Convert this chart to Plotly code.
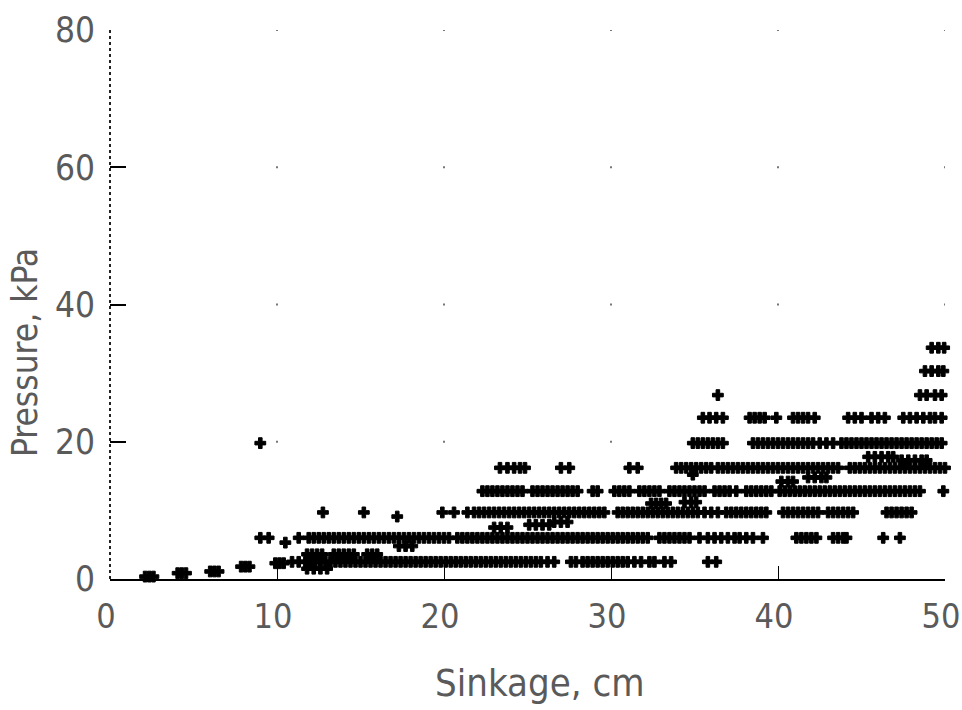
import plotly.graph_objects as go

# ---- data ----
X_TICKS = [0, 10, 20, 30, 40, 50]
Y_TICKS = [0, 20, 40, 60, 80]
GRID_X = [10, 20, 30, 40, 50]
GRID_Y = [20, 40, 60, 80]

# pressure bands (kPa) and sinkage positions (cm) of the "+" points on each band
LEVEL_A = 2.5
SINK_A = [10.9, 11.3, 11.7, 12.0, 12.3, 12.6, 12.9, 13.2, 13.5, 13.8, 14.1, 14.4, 14.7, 15.0,
          15.3, 15.6, 15.9, 16.2, 16.5, 16.8, 17.1, 17.4, 17.7, 18.0, 18.3, 18.6, 18.9, 19.2,
          19.5, 19.8, 20.1, 20.4, 20.7, 21.0, 21.3, 21.6, 21.9, 22.2, 22.5, 22.8, 23.1, 23.4,
          23.7, 24.0, 24.3, 24.6, 24.9, 25.2, 25.5, 25.8, 26.2, 26.6, 27.6, 27.9, 28.3, 28.6,
          28.9, 29.2, 29.5, 29.8, 30.1, 30.4, 30.7, 31.0, 31.4, 31.8, 32.3, 32.6, 33.2, 33.6,
          35.8, 36.3]

LEVEL_B = 6.0
SINK_B = [9.0, 9.5, 11.3, 11.9, 12.2, 12.5, 12.8, 13.1, 13.4, 13.7, 14.0, 14.3, 14.6, 14.9,
          15.2, 15.5, 15.8, 16.1, 16.4, 16.7, 17.0, 17.3, 17.6, 17.9, 18.2, 18.5, 18.8, 19.1,
          19.4, 19.7, 20.0, 20.3, 20.8, 21.1, 21.4, 21.7, 22.0, 22.3, 22.6, 22.9, 23.2, 23.5,
          23.8, 24.1, 24.4, 24.7, 25.0, 25.3, 25.6, 25.9, 26.2, 26.5, 26.8, 27.1, 27.4, 27.7,
          28.0, 28.3, 28.6, 28.9, 29.2, 29.5, 29.8, 30.1, 30.4, 30.7, 31.0, 31.3, 31.6, 31.9,
          32.2, 32.9, 33.2, 33.5, 33.8, 34.1, 34.4, 34.7, 35.3, 35.8, 36.2, 36.6, 37.0, 37.4,
          37.7, 38.1, 38.5, 39.1, 41.1, 41.4, 41.7, 42.0, 42.3, 43.3, 43.6, 43.9, 44.1, 46.3,
          47.3]

LEVEL_C = 9.7
SINK_C = [12.75, 15.2, 19.9, 20.6, 21.4, 21.8, 22.1, 22.4, 22.7, 23.0, 23.3, 23.6, 23.9, 24.2,
          24.5, 24.8, 25.1, 25.4, 25.7, 26.0, 26.3, 26.6, 26.9, 27.2, 27.5, 27.8, 28.1, 28.4,
          28.7, 29.0, 29.3, 29.6, 30.4, 30.7, 31.0, 31.3, 31.6, 31.9, 32.2, 32.5, 32.8, 33.1,
          33.4, 33.7, 34.0, 34.3, 34.6, 34.9, 35.2, 35.6, 36.0, 36.4, 36.9, 37.2, 37.5, 37.8,
          38.1, 38.4, 38.7, 39.0, 39.3, 40.3, 40.6, 40.9, 41.2, 41.5, 41.8, 42.1, 42.4, 43.0,
          43.3, 43.6, 43.9, 44.2, 44.5, 46.5, 46.8, 47.1, 47.4, 47.7, 48.0]

LEVEL_D = 12.8
SINK_D = [22.3, 22.6, 22.9, 23.2, 23.5, 23.8, 24.1, 24.4, 24.7, 25.3, 25.6, 25.9, 26.2, 26.5,
          26.8, 27.1, 27.4, 27.7, 28.0, 28.9, 29.2, 30.2, 30.5, 30.8, 31.1, 31.7, 32.0, 32.3,
          32.6, 32.9, 33.5, 33.8, 34.1, 34.4, 34.7, 35.0, 35.3, 35.6, 36.2, 36.5, 36.8, 37.1,
          37.5, 38.1, 38.4, 38.7, 39.0, 39.3, 39.6, 40.1, 40.4, 40.7, 41.0, 41.3, 41.6, 41.9,
          42.2, 42.5, 42.8, 43.1, 43.4, 43.7, 44.0, 44.3, 44.6, 44.9, 45.2, 45.5, 45.8, 46.1,
          46.4, 46.7, 47.0, 47.3, 47.6, 47.9, 48.2, 48.5, 49.9]

LEVEL_E = 16.2
SINK_E = [23.35, 23.8, 24.2, 24.55, 24.85, 27.0, 27.5, 31.1, 31.6, 33.9, 34.2, 34.5, 34.8,
          35.1, 35.4, 35.7, 36.0, 36.4, 36.7, 37.0, 37.3, 37.6, 37.9, 38.2, 38.5, 38.8, 39.1,
          39.4, 39.7, 40.0, 40.3, 40.6, 40.9, 41.2, 41.5, 41.8, 42.1, 42.4, 42.7, 43.0, 43.3,
          43.6, 44.3, 44.6, 44.9, 45.2, 45.5, 45.8, 46.1, 46.4, 46.7, 47.0, 47.3, 47.6, 47.9,
          48.2, 48.5, 48.8, 49.1, 49.4, 49.7, 50.0]

LEVEL_F = 19.8
SINK_F = [9.0, 34.9, 35.2, 35.5, 35.8, 36.1, 36.4, 36.7, 38.5, 38.8, 39.1, 39.4, 39.7, 40.0,
          40.3, 40.6, 40.9, 41.2, 41.5, 41.8, 42.1, 42.5, 42.9, 43.3, 43.8, 44.1, 44.4, 44.7,
          45.0, 45.3, 45.6, 45.9, 46.2, 46.5, 46.8, 47.1, 47.4, 47.7, 48.0, 48.3, 48.6, 48.9,
          49.2, 49.5, 49.8]

LEVEL_G = 23.5
SINK_G = [35.5, 35.9, 36.3, 36.7, 38.3, 38.6, 38.9, 39.2, 39.9, 40.9, 41.2, 41.5, 41.8, 42.2,
          44.2, 44.6, 45.0, 45.6, 46.0, 46.4, 47.5, 47.9, 48.3, 48.7, 49.1, 49.4, 49.8]

LEVEL_H = 26.8
SINK_H = [36.4, 48.5, 48.9, 49.4, 49.8]

LEVEL_I = 30.3
SINK_I = [48.8, 49.2, 49.6, 49.9]

LEVEL_J = 33.7
SINK_J = [49.2, 49.6, 49.95]

# off-band points (steps, drips and the low-sinkage clusters)
EXTRA_SINK = [2.1, 2.35, 2.6, 4.05, 4.3, 4.55, 6.0, 6.25, 6.5, 7.85, 8.1, 8.35,
              9.9, 10.15, 10.4,
              11.8, 12.1, 12.4, 12.7, 13.4, 13.7, 14.0, 14.3, 14.6, 15.4, 15.7, 16.0,
              11.8, 12.2, 12.6, 13.0,
              10.5, 17.3, 17.7, 18.1, 23.0, 23.4, 23.8, 25.1, 25.5, 25.9, 26.3, 26.6, 27.0, 27.4,
              17.2, 32.4, 32.7, 33.0, 33.3,
              34.4, 34.8, 35.1, 40.2, 40.6, 40.9,
              41.8, 42.2, 42.6, 42.9, 45.4, 45.8, 46.2, 46.6, 46.9, 34.9,
              47.4, 47.8, 48.2, 48.6, 48.9]
EXTRA_PRES = [0.35, 0.35, 0.35, 0.85, 0.85, 0.85, 1.1, 1.1, 1.1, 1.8, 1.8, 1.8,
              2.3, 2.3, 2.3,
              3.6, 3.6, 3.6, 3.6, 3.6, 3.6, 3.6, 3.6, 3.6, 3.6, 3.6, 3.6,
              1.5, 1.5, 1.5, 1.5,
              5.3, 4.8, 4.8, 4.8, 7.5, 7.5, 7.5, 7.9, 7.9, 7.9, 7.9, 8.3, 8.3, 8.3,
              9.1, 11.0, 11.0, 11.0, 11.0,
              11.2, 11.2, 11.2, 14.2, 14.2, 14.2,
              14.8, 14.8, 14.8, 14.8, 17.8, 17.8, 17.8, 17.8, 17.8, 15.2,
              17.3, 17.3, 17.3, 17.3, 17.3]

bands = [(LEVEL_A, SINK_A), (LEVEL_B, SINK_B), (LEVEL_C, SINK_C), (LEVEL_D, SINK_D),
         (LEVEL_E, SINK_E), (LEVEL_F, SINK_F), (LEVEL_G, SINK_G), (LEVEL_H, SINK_H),
         (LEVEL_I, SINK_I), (LEVEL_J, SINK_J)]

xs, ys = [], []
for lvl, sinks in bands:
    xs += sinks
    ys += [lvl] * len(sinks)
xs += EXTRA_SINK
ys += EXTRA_PRES

FONT = "DejaVu Sans Condensed, DejaVu Sans, sans-serif"
TXT = "#5a5a5a"

fig = go.Figure()

# grid intersection dots
gx, gy = [], []
for a in GRID_X:
    for b in GRID_Y:
        gx.append(a)
        gy.append(b)
fig.add_trace(go.Scatter(x=gx, y=gy, mode="markers",
                         marker=dict(symbol="square", size=2, color="#777"),
                         hoverinfo="skip", showlegend=False))

fig.add_trace(go.Scatter(x=xs, y=ys, mode="markers", cliponaxis=False,
                         marker=dict(symbol="cross", size=9, color="black",
                                     line=dict(width=1, color="black")),
                         showlegend=False))

# dotted left axis line (paper x-reference so it is not clipped)
fig.add_shape(type="line", xref="paper", yref="y", x0=0, x1=0, y0=0, y1=80,
              line=dict(color="#222", width=2, dash="dot"))

fig.update_layout(
    width=962, height=710,
    margin=dict(l=110, r=17, t=30, b=131, autoexpand=False),
    paper_bgcolor="white", plot_bgcolor="white",
    font=dict(family=FONT, color=TXT),
    xaxis=dict(range=[0, 50], tickvals=X_TICKS, ticktext=[str(v) for v in X_TICKS],
               showgrid=False, zeroline=False, showline=True, linecolor="black",
               linewidth=2, ticks="inside", ticklen=13, tickwidth=1, tickcolor="black",
               tickfont=dict(size=34, family=FONT, color=TXT), ticklabelstandoff=6,
               ticklabelshift=-4, ticklabeloverflow="allow", automargin=False),
    yaxis=dict(range=[0, 80], tickvals=Y_TICKS, ticktext=[str(v) for v in Y_TICKS],
               showgrid=False, zeroline=False, showline=False,
               ticks="inside", ticklen=16, tickwidth=2, tickcolor="black",
               tickfont=dict(size=35, family=FONT, color=TXT), ticklabelstandoff=14,
               ticklabeloverflow="allow", automargin=False),
    annotations=[
        dict(text="Sinkage, cm", xref="paper", yref="paper", x=0.515, y=-0.189,
             showarrow=False, xanchor="center", yanchor="middle",
             font=dict(size=38, family=FONT, color=TXT)),
        dict(text="Pressure, kPa", xref="paper", yref="paper", x=-0.102, y=0.413,
             showarrow=False, xanchor="center", yanchor="middle", textangle=-90,
             font=dict(size=35, family=FONT, color=TXT)),
    ],
)

fig.write_html("out.html")
